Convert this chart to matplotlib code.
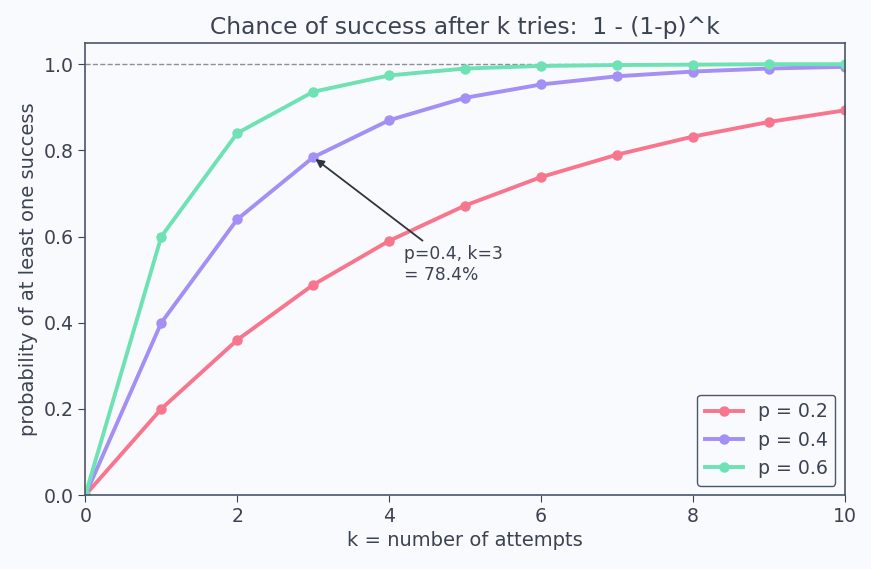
import matplotlib
matplotlib.use('Agg')
import matplotlib.pyplot as plt

k = [0, 1, 2, 3, 4, 5, 6, 7, 8, 9, 10]
p02 = [0.0, 0.200, 0.360, 0.488, 0.590, 0.672, 0.738, 0.790, 0.832, 0.866, 0.893]
p04 = [0.0, 0.400, 0.640, 0.784, 0.870, 0.922, 0.953, 0.972, 0.983, 0.990, 0.994]
p06 = [0.0, 0.600, 0.840, 0.936, 0.974, 0.990, 0.996, 0.998, 0.999, 1.000, 1.000]
labels = ['p = 0.2', 'p = 0.4', 'p = 0.6']
colors = ['#f7768e', '#a48ff5', '#6ee2b4']

text_col = '#3b4252'
spine_col = '#4c566a'
bg = '#f9fafd'

plt.rcParams['font.family'] = 'DejaVu Sans'
fig, ax = plt.subplots(figsize=(8.71, 5.69), dpi=100)
fig.patch.set_facecolor(bg)
ax.set_facecolor(bg)

for ys, lab, c in zip([p02, p04, p06], labels, colors):
    ax.plot(k, ys, '-o', color=c, lw=2.8, markersize=6.5, label=lab)

ax.axhline(1.0, color='#8a8f99', lw=1, ls='--', zorder=0)

ax.annotate('p=0.4, k=3\n= 78.4%', xy=(3, p04[3]), xytext=(4.2, 0.49),
            fontsize=12.3, color=text_col, va='bottom',
            arrowprops=dict(arrowstyle='-|>', color='#2e3440', lw=1.3))

ax.set_xlim(0, 10)
ax.set_ylim(0, 1.05)
ax.set_xticks([0, 2, 4, 6, 8, 10])
ax.set_yticks([0.0, 0.2, 0.4, 0.6, 0.8, 1.0])
ax.set_xlabel('k = number of attempts', fontsize=14, color=text_col)
ax.set_ylabel('probability of at least one success', fontsize=14, color=text_col)
ax.set_title('Chance of success after k tries:  1 - (1-p)^k', fontsize=16.8, color=text_col)
ax.tick_params(colors=text_col, labelsize=13.6, length=5)
for s in ax.spines.values():
    s.set_color(spine_col)
    s.set_linewidth(1.2)

leg = ax.legend(loc='lower right', fontsize=13.6, framealpha=1, facecolor=bg,
                edgecolor=spine_col, labelcolor=text_col)

plt.subplots_adjust(left=0.098, right=0.970, top=0.925, bottom=0.130)
plt.savefig('out.png', dpi=100, facecolor=bg)
plt.close()
